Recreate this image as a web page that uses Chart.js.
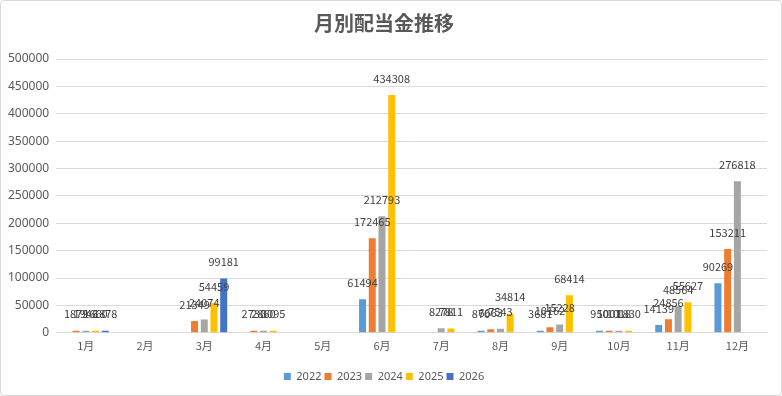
<!DOCTYPE html>
<html>
<head>
<meta charset="utf-8">
<script src="https://cdn.jsdelivr.net/npm/chart.js@4/dist/chart.umd.min.js"></script>
<style>
  html, body { margin: 0; padding: 0; background: #fff; }
  #wrap {
    width: 780px; height: 394px;
    border: 1px solid #d9d9d9; border-radius: 4px;
    position: relative; box-sizing: content-box;
  }
</style>
</head>
<body>
<div id="wrap"><canvas id="chart" width="780" height="394"></canvas></div>
<script>
const months = ["1月", "2月", "3月", "4月", "5月", "6月", "7月", "8月", "9月", "10月", "11月", "12月"];
const years = ["2022", "2023", "2024", "2025", "2026"];
const yearColors = ["#5B9BD5", "#ED7D31", "#A5A5A5", "#FFC000", "#4472C4"];

const y2022 = [null, null, null, null, null, 61494, null, 870, 3681, 950, 14139, 90269];
const y2023 = [1879, null, 21349, 2730, null, 172465, null, 6663, 10162, 1001, 24856, 153211];
const y2024 = [1946, null, 24074, 2860, null, 212793, 8278, 7543, 15228, 1018, 48564, 276818];
const y2025 = [1660, null, 54459, 3095, null, 434308, 7811, 34814, 68414, 1830, 55627, null];
const y2026 = [1878, null, 99181, null, null, null, null, null, null, null, null, null];

const yTicks = { min: 0, max: 500000, step: 50000 };

const seriesData = [y2022, y2023, y2024, y2025, y2026];

const labelFont = '11px "Noto Sans CJK JP", "Noto Sans", sans-serif';

// draws each bar's value above it
const valueLabels = {
  id: "valueLabels",
  afterDatasetsDraw(chart) {
    const ctx = chart.ctx;
    ctx.save();
    ctx.font = labelFont;
    ctx.fillStyle = "#404040";
    ctx.textAlign = "center";
    ctx.textBaseline = "bottom";
    chart.data.datasets.forEach((ds, i) => {
      const meta = chart.getDatasetMeta(i);
      meta.data.forEach((bar, j) => {
        const v = ds.data[j];
        if (v === null || v === undefined) return;
        ctx.fillText(String(v), bar.x, bar.y - 11);
      });
    });
    ctx.restore();
  },
};

new Chart(document.getElementById("chart"), {
  type: "bar",
  data: {
    labels: months,
    datasets: years.map((year, i) => ({
      label: year,
      data: seriesData[i],
      backgroundColor: yearColors[i],
      borderWidth: 0,
      minBarLength: 2,
      categoryPercentage: 0.82,
      barPercentage: 0.72,
    })),
  },
  options: {
    responsive: false,
    animation: false,
    layout: { padding: { left: 0, right: 14, top: 6, bottom: 3 } },
    scales: {
      x: {
        grid: { display: false },
        border: { color: "#d9d9d9" },
        afterFit: (scale) => { scale.height += 18; },
        ticks: {
          color: "#595959",
          font: { size: 11, family: '"Noto Sans CJK JP", sans-serif' },
          padding: -2,
        },
      },
      y: {
        min: yTicks.min,
        max: yTicks.max,
        grid: { color: "#d9d9d9", drawTicks: false },
        border: { display: false },
        ticks: {
          stepSize: yTicks.step,
          color: "#595959",
          padding: 7,
          font: { size: 12, family: '"Noto Sans", sans-serif' },
          callback: (v) => String(v),
        },
      },
    },
    plugins: {
      title: {
        display: true,
        text: "月別配当金推移",
        color: "#595959",
        font: { size: 20, weight: "bold", family: '"Noto Sans CJK JP", sans-serif' },
        padding: { top: 4, bottom: 24 },
      },
      legend: {
        position: "bottom",
        labels: {
          boxWidth: 7,
          boxHeight: 7,
          color: "#595959",
          padding: 3,
          font: { size: 11, family: '"Noto Sans", sans-serif' },
        },
      },
      tooltip: { enabled: false },
    },
  },
  plugins: [valueLabels],
});
</script>
</body>
</html>
